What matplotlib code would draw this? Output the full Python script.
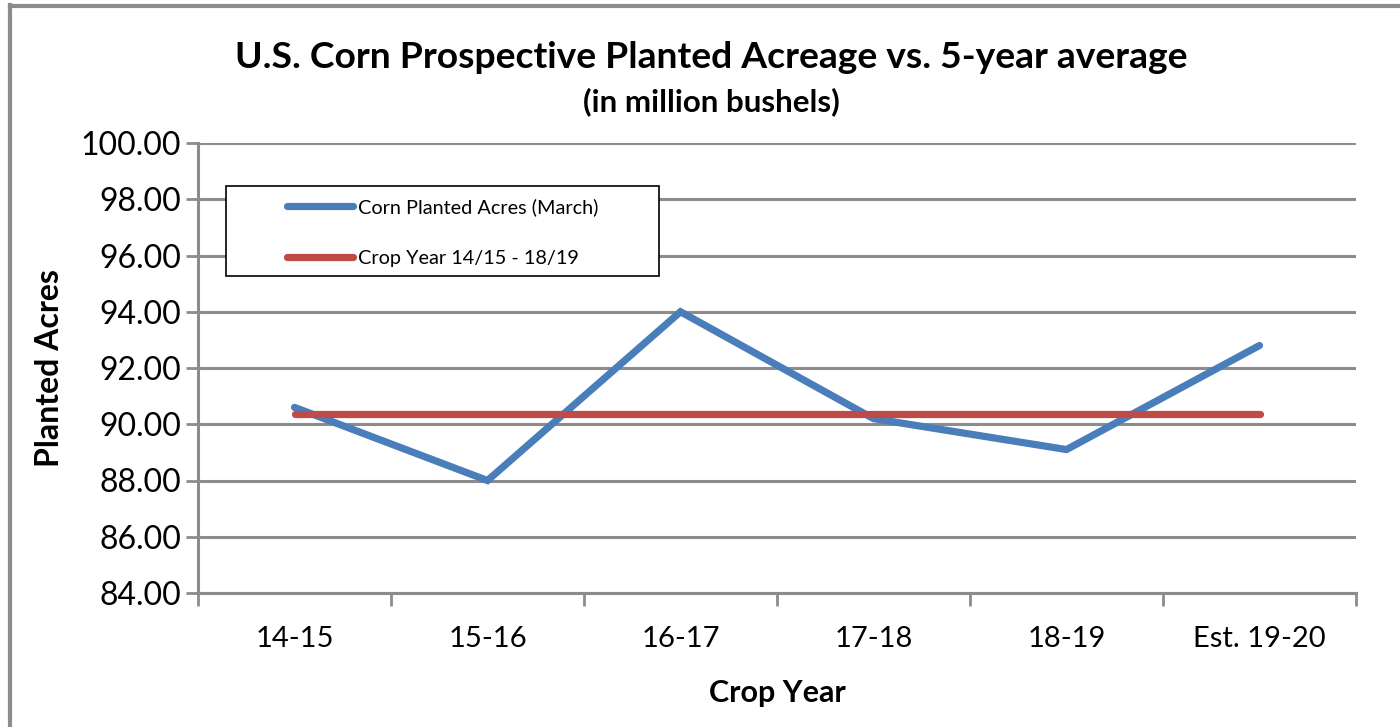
import numpy as np
import matplotlib.pyplot as plt
from matplotlib.lines import Line2D
from matplotlib.patches import Rectangle

plt.rcParams["font.family"] = ["Lato", "DejaVu Sans"]

crop_years = ["14-15", "15-16", "16-17", "17-18", "18-19", "Est. 19-20"]
planted_acres = [90.6, 88.0, 94.0, 90.2, 89.1, 92.8]
five_year_avg = [90.38, 90.38, 90.38, 90.38, 90.38, 90.38]
y_ticks = [84, 86, 88, 90, 92, 94, 96, 98, 100]

grid_col = "#8c8c8c"
blue = "#4a7ebb"
red = "#be4b48"

fig = plt.figure(figsize=(14, 7.27), dpi=100)
ax = fig.add_axes([198 / 1400, 1 - 593 / 727, (1356 - 198) / 1400, (593 - 143) / 727])

x = np.arange(len(crop_years))
ax.plot(x, planted_acres, color=blue, lw=5.2, solid_capstyle="round",
        solid_joinstyle="miter", label="Corn Planted Acres (March)", zorder=3)
ax.plot(x, five_year_avg, color=red, lw=5.2, solid_capstyle="round",
        label="Crop Year 14/15 - 18/19", zorder=3)

ax.set_xlim(-0.5, len(crop_years) - 0.5)
ax.set_ylim(84, 100)
ax.set_yticks(y_ticks)
ax.set_yticklabels([f"{v:.2f}" for v in y_ticks], fontsize=23)
ax.yaxis.grid(True, color=grid_col, lw=2.2)
ax.set_axisbelow(True)

# category ticks between groups, labels at the centres
ax.set_xticks(np.arange(-0.5, len(crop_years), 1.0))
ax.set_xticklabels([])
ax.set_xticks(x, minor=True)
ax.set_xticklabels(crop_years, minor=True, fontsize=21)
ax.tick_params(axis="x", which="major", length=9, width=2, color=grid_col, direction="out")
ax.tick_params(axis="x", which="minor", length=0, pad=24)
ax.tick_params(axis="y", length=9, width=2, color=grid_col, pad=3)

for s in ["top", "right"]:
    ax.spines[s].set_visible(False)
for s in ["left", "bottom"]:
    ax.spines[s].set_color(grid_col)
    ax.spines[s].set_linewidth(2.2)

ax.set_xlabel("Crop Year", fontsize=22, fontweight="bold", labelpad=19)
ax.set_ylabel("Planted Acres", fontsize=23, fontweight="bold", labelpad=12)

fig.text(0.508, 1 - 58 / 727, "U.S. Corn Prospective Planted Acreage vs. 5-year average",
         ha="center", va="center", fontsize=26.8, fontweight="bold")
fig.text(0.508, 1 - 102 / 727, "(in million bushels)",
         ha="center", va="center", fontsize=22.5, fontweight="bold")

# legend box as in the source chart, with the entries indented
ax.add_patch(Rectangle((28 / 1158, 1 - 133 / 450), 433 / 1158, 90 / 450,
                       transform=ax.transAxes, facecolor="white", edgecolor="black",
                       lw=1.2, zorder=4))
handles = [Line2D([0], [0], color=blue, lw=5.2, solid_capstyle="round"),
           Line2D([0], [0], color=red, lw=5.2, solid_capstyle="round")]
leg = ax.legend(handles, ["Corn Planted Acres (March)", "Crop Year 14/15 - 18/19"],
                loc="upper left", bbox_to_anchor=(89 / 1158, 1 - 55 / 450),
                frameon=False, fontsize=14.3, handlelength=3.3,
                borderpad=0, labelspacing=1.7, handletextpad=0.25,
                borderaxespad=0)
leg.set_zorder(5)

# outer chart frame
fig.add_artist(Line2D([9.5 / 1400, 9.5 / 1400], [0, 1 - 5 / 727], color=grid_col, lw=3))
fig.add_artist(Line2D([9.5 / 1400, 1], [1 - 5.5 / 727, 1 - 5.5 / 727], color=grid_col, lw=3))

fig.savefig("out.png", dpi=100)
